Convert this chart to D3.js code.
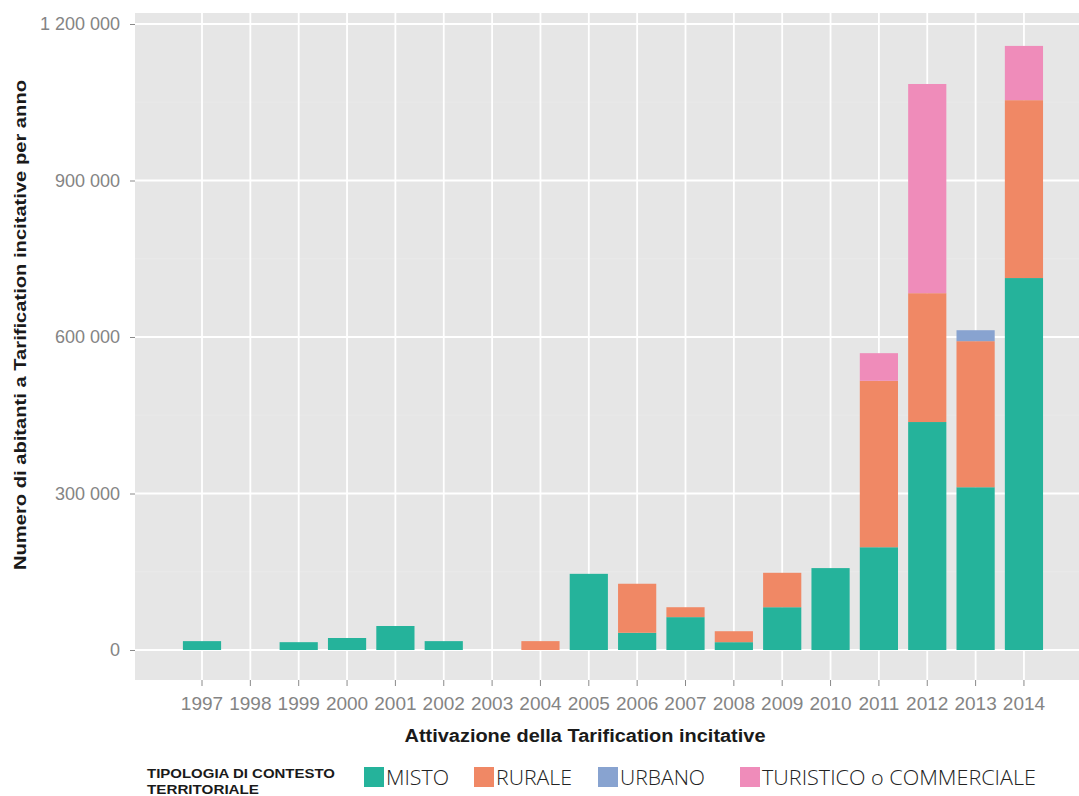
<!DOCTYPE html>
<html>
<head>
<meta charset="utf-8">
<script src="https://cdn.jsdelivr.net/npm/d3@7"></script>
<style>
body { margin:0; background:#fff; }
svg { display:block; }
.tick text { font-family:"Liberation Sans", Arial, sans-serif; }
</style>
</head>
<body>
<svg id="chart" width="1079" height="796"></svg>
<script>
var years = ['1997','1998','1999','2000','2001','2002','2003','2004','2005','2006','2007','2008','2009','2010','2011','2012','2013','2014'];
var misto     = [17000, 0, 15000, 23000, 46000, 17000, 0, 0, 146000, 33000, 63000, 15000, 82000, 157000, 197000, 437000, 312000, 713000];
var rurale    = [0, 0, 0, 0, 0, 0, 0, 17000, 0, 94000, 19000, 21000, 66000, 0, 319000, 247000, 280000, 341000];
var urbano    = [0, 0, 0, 0, 0, 0, 0, 0, 0, 0, 0, 0, 0, 0, 0, 0, 21000, 0];
var turistico = [0, 0, 0, 0, 0, 0, 0, 0, 0, 0, 0, 0, 0, 0, 53000, 401000, 0, 104000];
var yTicks = [0, 300000, 600000, 900000, 1200000];
var keys = ['MISTO','RURALE','URBANO','TURISTICO o COMMERCIALE'];
var colors = ['#25b39b','#f08865','#88a3d0','#ef8cba'];

var table = [];
years.forEach(function(y, i){
	table.push({'year':y, 'MISTO':misto[i], 'RURALE':rurale[i], 'URBANO':urbano[i], 'TURISTICO o COMMERCIALE':turistico[i]});
});

var svg = d3.select('#chart');
var pLeft = 135, pRight = 1079, pTop = 13, pBottom = 680;

//Scales
var step = 48.35;
var xScale = d3.scaleBand().domain(years)
	.range([202 - step/2, 202 - step/2 + step*years.length])
	.paddingInner(0.21).paddingOuter(0.105);
var yScale = d3.scaleLinear().domain([0, 1200000]).range([650, 24]);
var color = d3.scaleOrdinal().domain(keys).range(colors);
var fmt = d3.formatLocale({decimal:',', thousands:' ', grouping:[3], currency:['','']}).format(',d');

//Panel
svg.append('rect').attr('x', pLeft).attr('y', pTop).attr('width', pRight-pLeft).attr('height', pBottom-pTop).attr('fill', '#e6e6e6');

//Grid
svg.append('g').selectAll('line').data([150000, 450000, 750000, 1050000]).enter().append('line')
	.attr('x1', pLeft).attr('x2', pRight)
	.attr('y1', function(d){ return yScale(d); }).attr('y2', function(d){ return yScale(d); })
	.attr('stroke', '#ebebeb').attr('stroke-width', 0.8);
svg.append('g').selectAll('line').data(yTicks).enter().append('line')
	.attr('x1', pLeft).attr('x2', pRight)
	.attr('y1', function(d){ return yScale(d); }).attr('y2', function(d){ return yScale(d); })
	.attr('stroke', '#fff').attr('stroke-width', 1.8);
svg.append('g').selectAll('line').data(years).enter().append('line')
	.attr('x1', function(d){ return xScale(d) + xScale.bandwidth()/2; })
	.attr('x2', function(d){ return xScale(d) + xScale.bandwidth()/2; })
	.attr('y1', pTop).attr('y2', pBottom)
	.attr('stroke', '#fff').attr('stroke-width', 1.8);

//Bars
var series = d3.stack().keys(keys)(table);
var groups = svg.append('g').selectAll('g').data(series).enter().append('g')
	.attr('fill', function(d){ return color(d.key); });
groups.selectAll('rect').data(function(d){ return d; }).enter().append('rect')
	.filter(function(d){ return d[1] > d[0]; })
	.attr('x', function(d){ return xScale(d.data.year); })
	.attr('y', function(d){ return yScale(d[1]); })
	.attr('width', xScale.bandwidth())
	.attr('height', function(d){ return yScale(d[0]) - yScale(d[1]); });

//Axes
var xAxis = svg.append('g').attr('transform', 'translate(0,' + pBottom + ')')
	.call(d3.axisBottom(xScale).tickSize(6).tickPadding(11));
xAxis.select('.domain').remove();
xAxis.selectAll('line').attr('stroke', '#8a8a8a');
xAxis.selectAll('text').attr('fill', '#848484').attr('font-size', 19);

var yAxis = svg.append('g').attr('transform', 'translate(' + pLeft + ',0)')
	.call(d3.axisLeft(yScale).tickValues(yTicks).tickFormat(fmt).tickSize(5).tickPadding(10));
yAxis.select('.domain').remove();
yAxis.selectAll('line').attr('stroke', '#8a8a8a');
yAxis.selectAll('text').attr('fill', '#848484').attr('font-size', 18);

//Titles
svg.append('text').text('Attivazione della Tarification incitative')
	.attr('x', 585).attr('y', 742).attr('text-anchor', 'middle')
	.attr('textLength', 361).attr('lengthAdjust', 'spacingAndGlyphs')
	.attr('font-family', '"Liberation Sans", Arial, sans-serif').attr('font-weight', 'bold').attr('font-size', 18)
	.attr('fill', '#1a1a1a');
svg.append('text').text('Numero di abitanti a Tarification incitative per anno')
	.attr('transform', 'translate(26,325) rotate(-90)').attr('text-anchor', 'middle')
	.attr('textLength', 490).attr('lengthAdjust', 'spacingAndGlyphs')
	.attr('font-family', '"Liberation Sans", Arial, sans-serif').attr('font-weight', 'bold').attr('font-size', 17)
	.attr('fill', '#1a1a1a');

//Legend
svg.append('text').text('TIPOLOGIA DI CONTESTO')
	.attr('x', 147).attr('y', 778).attr('textLength', 188).attr('lengthAdjust', 'spacingAndGlyphs')
	.attr('font-family', '"Liberation Sans", Arial, sans-serif').attr('font-weight', 'bold').attr('font-size', 13)
	.attr('fill', '#1a1a1a');
svg.append('text').text('TERRITORIALE')
	.attr('x', 147).attr('y', 794).attr('textLength', 112).attr('lengthAdjust', 'spacingAndGlyphs')
	.attr('font-family', '"Liberation Sans", Arial, sans-serif').attr('font-weight', 'bold').attr('font-size', 13)
	.attr('fill', '#1a1a1a');

var legX = [364, 474, 598, 740];
var legW = [63, 76, 85, 274];
var leg = svg.append('g').selectAll('g').data(keys).enter().append('g')
	.attr('transform', function(d, i){ return 'translate(' + legX[i] + ',767)'; });
leg.append('rect').attr('width', 20).attr('height', 20).attr('fill', function(d){ return color(d); });
leg.append('text').text(function(d){ return d; })
	.attr('x', 22).attr('y', 18)
	.attr('textLength', function(d, i){ return legW[i]; }).attr('lengthAdjust', 'spacingAndGlyphs')
	.attr('font-family', '"Open Sans", sans-serif').attr('font-size', 20).attr('font-weight', 300)
	.attr('fill', '#222');
</script>
</body>
</html>
